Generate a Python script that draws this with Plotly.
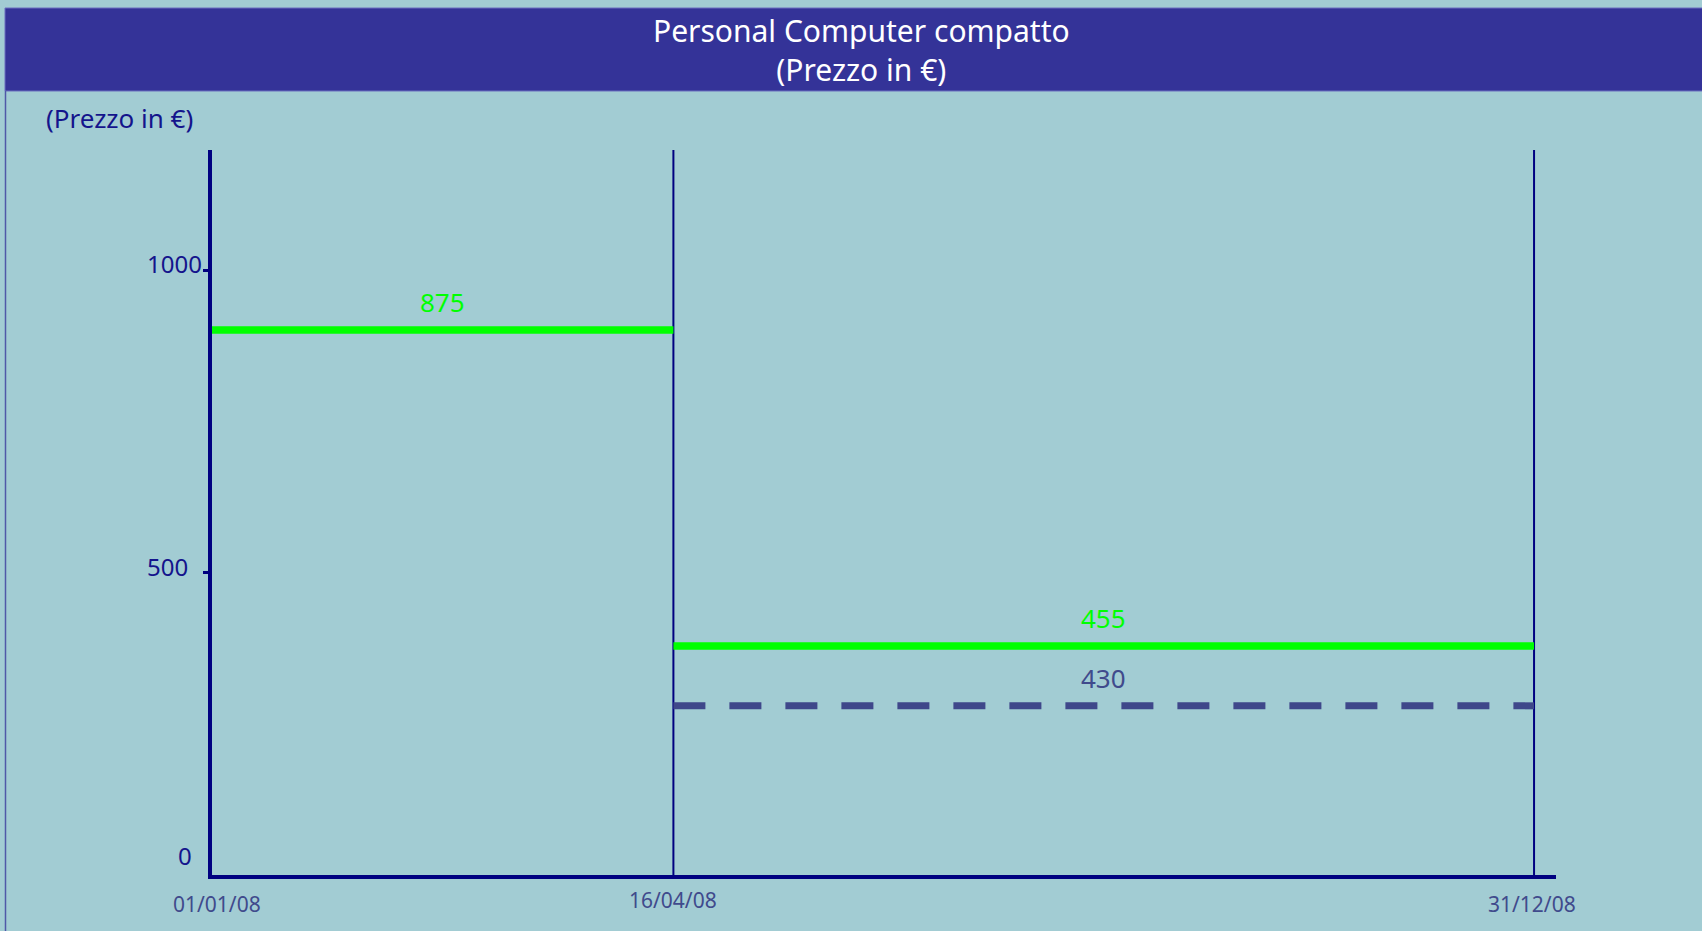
import plotly.graph_objects as go

# --- data ---
date_labels = ["01/01/08", "16/04/08", "31/12/08"]
date_pos = [0, 34.9, 100]          # relative position along the time axis

price_levels = [902, 379]          # drawn heights of the green price lines
price_labels = ["875", "455"]
promo_level = 280                  # dashed line height
promo_label = "430"

tick_vals = [0, 500, 1000]
tick_text = ["0", "500", "1000"]

# --- styling ---
W, H = 1702, 931
L, R, T, B = 212, 146, 150, 56
bg = "#A2CCD3"
bar_blue = "#343398"
navy = "#000080"
slate = "#404A8C"
green = "#00FF00"
font = "Noto Sans"
y_top = 1200
x_right = 101.66

pw, ph = W - L - R, H - T - B


def px(x):
    return (x - L) / pw


def py(y):
    return (H - B - y) / ph


fig = go.Figure()

# separators at the period boundaries
for xv in date_pos[1:]:
    fig.add_trace(go.Scatter(x=[xv, xv], y=[0, y_top], mode="lines",
                             line=dict(color=navy, width=2), hoverinfo="skip"))

# list price per period
for i, lvl in enumerate(price_levels):
    fig.add_trace(go.Scatter(x=[date_pos[i], date_pos[i + 1]], y=[lvl, lvl], mode="lines",
                             line=dict(color=green, width=7.5), hoverinfo="skip"))
    fig.add_annotation(x=(date_pos[i] + date_pos[i + 1]) / 2, y=lvl, text=price_labels[i],
                       showarrow=False, yshift=28, font=dict(family=font, size=26, color=green))

# promo price, second period
fig.add_trace(go.Scatter(x=[date_pos[1], date_pos[2]], y=[promo_level, promo_level], mode="lines",
                         line=dict(color="#3F478A", width=7, dash="32px,24px"), hoverinfo="skip"))
fig.add_annotation(x=(date_pos[1] + date_pos[2]) / 2, y=promo_level, text=promo_label,
                   showarrow=False, yshift=28, font=dict(family=font, size=26, color=slate))

# y tick labels (placed a little above the ticks, like the original)
tick_shift = [20, 6, 7]
tick_xshift = [-18, -22, -8]
for v, t, ys, xs in zip(tick_vals, tick_text, tick_shift, tick_xshift):
    fig.add_annotation(x=0, y=v, xref="x", yref="y", text=t, showarrow=False,
                       xanchor="right", yanchor="middle", xshift=xs, yshift=ys,
                       font=dict(family=font, size=24, color="#14148C"))

# date labels under the axis
date_yshift = [-29, -25, -29]
date_xshift = [5, 0, -2]
for v, t, ys, xs in zip(date_pos, date_labels, date_yshift, date_xshift):
    fig.add_annotation(x=v, y=0, text=t, showarrow=False, yshift=ys, xshift=xs,
                       yanchor="middle", font=dict(family=font, size=21, color=slate))

# header bar + titles
fig.add_shape(type="rect", xref="paper", yref="paper", x0=px(5), x1=px(W + 5), y0=py(91), y1=py(8),
              fillcolor=bar_blue, line=dict(color="#6B6FBF", width=1), layer="above")
fig.add_shape(type="line", xref="paper", yref="paper", x0=px(5.5), x1=px(5.5), y0=py(91), y1=py(H + 5),
              line=dict(color="#5058A8", width=1.5))
fig.add_annotation(xref="paper", yref="paper", x=px(861), y=py(50), xanchor="center",
                   yanchor="middle", text="Personal Computer compatto<br>(Prezzo in €)",
                   showarrow=False, align="center",
                   font=dict(family=font, size=30, color="white"))
fig.add_annotation(xref="paper", yref="paper", x=px(44), y=py(118), xanchor="left",
                   yanchor="middle", text="(Prezzo in €)", showarrow=False,
                   font=dict(family=font, size=26, color="#14148C"))

fig.update_xaxes(range=[0, x_right], showgrid=False, zeroline=False, showticklabels=False,
                 showline=True, linecolor=navy, linewidth=4, ticks="")
fig.update_yaxes(range=[0, y_top], showgrid=False, zeroline=False, showticklabels=False,
                 showline=True, linecolor=navy, linewidth=4, ticks="outside",
                 tickvals=tick_vals[1:], ticklen=5, tickwidth=3, tickcolor=navy)
fig.update_layout(width=W, height=H, margin=dict(l=L, r=R, t=T, b=B),
                  paper_bgcolor=bg, plot_bgcolor=bg, showlegend=False)

fig.write_html("out.html", config={"displayModeBar": False},
               post_script="document.body.style.margin='0';")
